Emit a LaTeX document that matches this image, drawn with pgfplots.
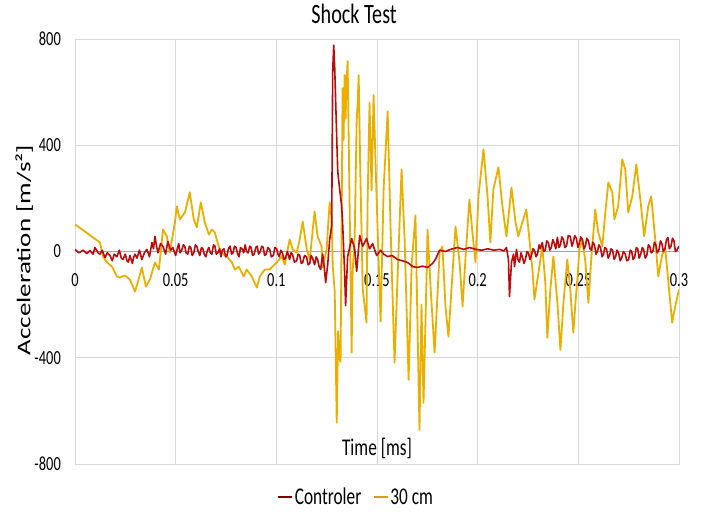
\documentclass[border=0pt]{standalone}
\usepackage{fontspec}
\setmainfont{Carlito}[FakeStretch=0.72]
\newfontfamily\ylabfont{Carlito}
\usepackage{graphicx}
\usepackage{pgfplots}
\usepackage{pgfplotstable}
\pgfplotsset{compat=1.18}

\definecolor{ctrl}{RGB}{190,10,10}
\definecolor{gold}{RGB}{235,175,0}
\definecolor{gridc}{RGB}{217,217,217}
\definecolor{zeroc}{RGB}{165,165,165}

% 30 cm sensor
\pgfplotstableread{
t v
0 102
0.0050 75
0.0089 53
0.0124 34
0.0139 -19
0.0159 -41
0.0184 -57
0.0208 -94
0.0223 -98
0.0248 -90
0.0273 -106
0.0298 -151
0.0313 -113
0.0332 -60
0.0352 -132
0.0372 -106
0.0397 -41
0.0417 -68
0.0437 83
0.0456 57
0.0471 -4
0.0496 109
0.0506 170
0.0521 121
0.0546 147
0.0570 223
0.0590 121
0.0605 91
0.0625 185
0.0645 109
0.0665 64
0.0680 83
0.0694 72
0.0714 19
0.0729 -4
0.0754 -19
0.0779 -41
0.0794 -68
0.0813 -57
0.0838 -94
0.0853 -68
0.0878 -94
0.0903 -136
0.0918 -94
0.0942 -68
0.0967 -68
0.1002 -41
0.1027 -19
0.1042 -49
0.1066 45
0.1081 8
0.1101 -4
0.1116 45
0.1131 113
0.1151 8
0.1166 -30
0.1190 151
0.1205 57
0.1225 19
0.1230 -60
0.1250 8
0.1255 72
0.1265 185
0.1275 124
0.1280 -53
0.1290 -151
0.1300 -645
0.1307 -300
0.1314 -404
0.1319 -415
0.1324 49
0.1329 615
0.1334 420
0.1339 664
0.1344 500
0.1349 641
0.1354 717
0.1364 174
0.1374 -381
0.1379 -75
0.1389 50
0.1399 491
0.1404 560
0.1409 664
0.1417 300
0.1424 49
0.1429 -140
0.1448 -268
0.1453 174
0.1463 560
0.1473 230
0.1483 589
0.1498 200
0.1518 -264
0.1533 238
0.1553 528
0.1567 100
0.1587 -419
0.1602 -100
0.1622 309
0.1637 50
0.1657 -483
0.1672 -50
0.1691 136
0.1711 -672
0.1721 -200
0.1731 -570
0.1746 -100
0.1751 83
0.1766 -132
0.1786 -381
0.1811 -4
0.1825 19
0.1840 -207
0.1855 -321
0.1865 -200
0.1890 94
0.1910 -40
0.1925 -207
0.1940 -20
0.1959 196
0.1974 72
0.1989 -40
0.2004 208
0.2029 385
0.2049 208
0.2063 34
0.2078 234
0.2103 317
0.2123 170
0.2143 57
0.2168 241
0.2188 110
0.2202 57
0.2222 110
0.2242 158
0.2252 83
0.2272 -68
0.2282 -181
0.2302 -80
0.2321 19
0.2336 -117
0.2346 -325
0.2361 -143
0.2376 -19
0.2396 -193
0.2411 -370
0.2426 -193
0.2445 -30
0.2460 -143
0.2475 -306
0.2485 -200
0.2495 -106
0.2505 8
0.2520 45
0.2535 -40
0.2550 -193
0.2564 -30
0.2584 158
0.2599 72
0.2619 19
0.2634 147
0.2649 260
0.2669 222
0.2679 121
0.2698 170
0.2718 347
0.2733 309
0.2748 147
0.2768 208
0.2788 328
0.2808 196
0.2827 57
0.2847 170
0.2862 208
0.2882 45
0.2897 -94
0.2917 -10
0.2932 8
0.2946 -106
0.2966 -268
0.2981 -207
0.3000 -143
}\goldtable

% controller
\pgfplotstableread{
t v
0 8
0.0020 -5
0.0040 5
0.0060 -8
0.0074 4
0.0090 -10
0.0099 15
0.0115 -5
0.0124 -10
0.0135 5
0.0149 -23
0.0160 -5
0.0174 -15
0.0185 -35
0.0195 -10
0.0208 -20
0.0220 5
0.0230 -25
0.0238 -30
0.0250 -10
0.0258 -35
0.0265 -40
0.0273 -15
0.0285 -45
0.0292 -20
0.0298 -10
0.0308 -25
0.0320 5
0.0332 -30
0.0345 -5
0.0357 8
0.0370 -20
0.0382 34
0.0390 10
0.0397 57
0.0405 20
0.0412 -5
0.0425 30
0.0437 19
0.0450 -10
0.0461 38
0.0475 5
0.0486 15
0.0500 -15
0.0508 10
0.0515 30
0.0522 -5
0.0530 5
0.0538 25
0.0545 20
0.0552 -5
0.0560 -10
0.0568 20
0.0575 15
0.0582 -15
0.0590 -5
0.0598 25
0.0605 20
0.0612 0
0.0620 -15
0.0628 15
0.0635 10
0.0642 -10
0.0650 -20
0.0658 5
0.0665 15
0.0672 -5
0.0680 -10
0.0688 25
0.0695 20
0.0702 -10
0.0710 -5
0.0718 10
0.0725 -20
0.0732 5
0.0740 10
0.0748 -20
0.0755 -15
0.0762 10
0.0770 20
0.0778 -10
0.0785 -5
0.0792 20
0.0800 15
0.0808 -10
0.0815 -20
0.0822 15
0.0830 10
0.0838 -5
0.0845 25
0.0852 0
0.0860 -5
0.0868 20
0.0875 15
0.0882 -15
0.0890 -10
0.0898 15
0.0905 20
0.0912 -10
0.0920 0
0.0928 20
0.0935 15
0.0942 -15
0.0950 -10
0.0958 15
0.0967 8
0.0975 -20
0.0985 -15
0.0993 15
0.1002 10
0.1008 -10
0.1015 -20
0.1022 5
0.1030 -5
0.1038 -30
0.1045 -25
0.1055 0
0.1066 -30
0.1073 -5
0.1080 -10
0.1090 -40
0.1101 -35
0.1108 -10
0.1116 -15
0.1124 -45
0.1131 -41
0.1140 -15
0.1150 -20
0.1158 -50
0.1166 -45
0.1173 -15
0.1180 -25
0.1190 -50
0.1198 -20
0.1205 -30
0.1212 -55
0.1220 -68
0.1230 -10
0.1238 -60
0.1245 -117
0.1255 -50
0.1265 45
0.1275 98
0.1280 679
0.1285 777
0.1290 690
0.1300 426
0.1305 302
0.1314 238
0.1324 174
0.1329 113
0.1339 -75
0.1344 -204
0.1354 -20
0.1374 49
0.1389 10
0.1399 -75
0.1414 60
0.1429 20
0.1448 49
0.1463 10
0.1478 30
0.1498 -15
0.1518 5
0.1533 -10
0.1553 -19
0.1575 -15
0.1602 -30
0.1627 -35
0.1652 -41
0.1677 -57
0.1701 -60
0.1726 -55
0.1751 -60
0.1776 -45
0.1790 -30
0.1811 5
0.1840 0
0.1865 8
0.1900 15
0.1930 8
0.1960 15
0.1990 8
0.2020 5
0.2050 10
0.2080 5
0.2110 8
0.2130 2
0.2143 15
0.2153 -30
0.2158 -170
0.2168 -40
0.2178 -10
0.2183 -57
0.2193 8
0.2200 -30
0.2208 -40
0.2215 -5
0.2222 -20
0.2230 -45
0.2237 -30
0.2245 0
0.2252 -5
0.2260 -30
0.2267 -15
0.2275 10
0.2282 5
0.2290 -20
0.2297 -10
0.2305 25
0.2311 10
0.2321 34
0.2328 0
0.2336 5
0.2343 40
0.2351 34
0.2358 5
0.2366 15
0.2373 45
0.2381 30
0.2388 10
0.2396 53
0.2404 15
0.2411 25
0.2418 55
0.2426 45
0.2433 15
0.2441 20
0.2450 60
0.2460 57
0.2468 20
0.2475 35
0.2482 60
0.2490 50
0.2498 15
0.2505 30
0.2512 55
0.2520 45
0.2528 10
0.2535 20
0.2542 50
0.2550 40
0.2558 10
0.2565 5
0.2572 35
0.2580 25
0.2588 -10
0.2595 0
0.2602 25
0.2610 15
0.2618 -20
0.2625 -10
0.2632 15
0.2640 10
0.2648 -25
0.2655 -15
0.2662 10
0.2670 5
0.2678 -30
0.2685 -20
0.2692 5
0.2700 -5
0.2708 -35
0.2715 -25
0.2724 0
0.2733 -10
0.2741 -35
0.2750 -30
0.2758 5
0.2765 0
0.2772 -30
0.2780 -20
0.2788 15
0.2795 10
0.2802 -25
0.2810 -10
0.2818 15
0.2825 5
0.2832 -25
0.2840 -15
0.2848 25
0.2855 20
0.2862 -5
0.2870 0
0.2878 35
0.2885 25
0.2892 -5
0.2900 5
0.2908 40
0.2915 30
0.2922 0
0.2930 10
0.2938 45
0.2945 53
0.2952 10
0.2960 20
0.2968 50
0.2975 40
0.2982 0
0.2990 5
0.3000 20
}\ctrltable

\begin{document}
\begin{tikzpicture}
\useasboundingbox (0,0) rectangle (702bp,512bp);
\begin{axis}[
    at={(75bp,48bp)}, anchor=south west,
    scale only axis, width=604bp, height=425bp,
    xmin=0, xmax=0.3, ymin=-800, ymax=800,
    xtick={0,0.05,0.1,0.15,0.2,0.25,0.3},
    xticklabels={0,0.05,0.1,0.15,0.2,0.25,0.3},
    ytick={-800,-400,0,400,800},
    yticklabels={-800,-400,0,400,800},
    major tick length=0pt,
    grid=major,
    grid style={gridc, line width=0.8bp},
    axis line style={gridc, line width=0.8bp},
    tick label style={font=\fontsize{20bp}{24bp}\selectfont, inner sep=0pt},
    xticklabel style={anchor=north, yshift=191bp},
    yticklabel style={anchor=east, xshift=-14bp},
    title={Shock Test},
    title style={at={(0.462,1.0447)}, anchor=center, inner sep=0pt,
        font=\fontsize{28bp}{32bp}\selectfont},
    xlabel={Time [ms]},
    xlabel style={at={(axis description cs:0.5,0.037)}, anchor=center,
        font=\fontsize{24bp}{28bp}\selectfont},
    ylabel={\scalebox{1}[0.72]{\ylabfont Acceleration [m/s²]}},
    ylabel style={at={(axis description cs:-0.084,0.5035)}, anchor=center,
        font=\fontsize{27bp}{30bp}\selectfont},
    legend style={at={(0.465,-0.078)}, anchor=center, draw=none, fill=none,
        font=\fontsize{24bp}{28bp}\selectfont,
        nodes={inner xsep=1.5bp, inner ysep=0pt},
        /tikz/every even column/.append style={column sep=10bp}},
    legend columns=2,
    legend image code/.code={\draw[#1, line width=2bp] (0bp,0bp) -- (14bp,0bp);},
]
\addlegendimage{color={rgb,255:red,128;green,0;blue,0}}
\addlegendentry{Controler}
\addlegendimage{color={rgb,255:red,212;green,160;blue,20}}
\addlegendentry{30 cm}

\draw[zeroc, line width=0.8bp] (axis cs:0,0) -- (axis cs:0.3,0);

\addplot[gold, line width=1.8bp, line join=round, forget plot] table[x=t, y=v] {\goldtable};
\addplot[ctrl, line width=1.6bp, line join=round, forget plot] table[x=t, y=v] {\ctrltable};
\end{axis}
\end{tikzpicture}
\end{document}
